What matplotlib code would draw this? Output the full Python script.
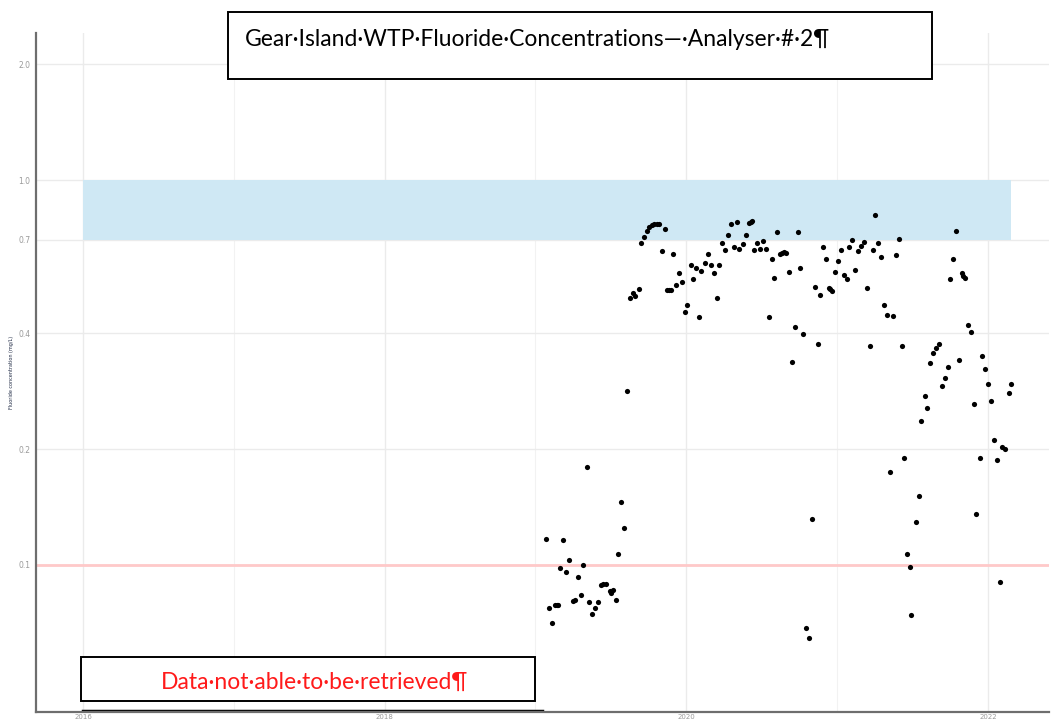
import matplotlib
matplotlib.use("Agg")
import matplotlib.pyplot as plt
from matplotlib.patches import Rectangle

# sample dates as decimal years, fluoride in mg/L
years = [
    2019.070, 2019.090, 2019.107, 2019.127, 2019.141, 2019.151, 2019.165, 2019.184,
    2019.204, 2019.224, 2019.251, 2019.262, 2019.282, 2019.300, 2019.317, 2019.340,
    2019.357, 2019.377, 2019.397, 2019.413, 2019.434, 2019.450, 2019.468, 2019.494,
    2019.499, 2019.512, 2019.532, 2019.547, 2019.567, 2019.589, 2019.605,
    2019.627, 2019.645, 2019.662, 2019.684, 2019.702, 2019.721, 2019.741, 2019.755,
    2019.770, 2019.788, 2019.804, 2019.821, 2019.857, 2019.837, 2019.914, 2019.949,
    2019.870, 2019.885, 2019.896, 2019.932, 2019.969, 2020.007, 2019.989, 2020.086,
    2020.046, 2020.029, 2020.064, 2020.099, 2020.126, 2020.142, 2020.164, 2020.184,
    2020.201, 2020.219, 2020.239, 2020.258, 2020.278, 2020.296, 2020.334, 2020.316,
    2020.351, 2020.374, 2020.394, 2020.414, 2020.427, 2020.437, 2020.449, 2020.469,
    2020.488, 2020.506, 2020.526, 2020.546, 2020.566, 2020.583, 2020.603, 2020.621,
    2020.634, 2020.648, 2020.661, 2020.681, 2020.699, 2020.719, 2020.738, 2020.756,
    2020.776, 2020.793, 2020.813, 2020.833, 2020.851, 2020.871, 2020.888, 2020.908,
    2020.928, 2020.946, 2020.955, 2020.966, 2020.988, 2021.004, 2021.024, 2021.043,
    2021.063, 2021.081, 2021.101, 2021.120, 2021.140, 2021.158, 2021.176, 2021.196,
    2021.218, 2021.236, 2021.253, 2021.273, 2021.293, 2021.311, 2021.330, 2021.350,
    2021.368, 2021.388, 2021.408, 2021.428, 2021.445, 2021.465, 2021.483, 2021.490,
    2021.523, 2021.541, 2021.558, 2021.580, 2021.598, 2021.616, 2021.638, 2021.655,
    2021.673, 2021.695, 2021.715, 2021.735, 2021.748, 2021.770, 2021.790, 2021.808,
    2021.826, 2021.836, 2021.850, 2021.868, 2021.885, 2021.905, 2021.923, 2021.945,
    2021.962, 2021.982, 2022.000, 2022.022, 2022.040, 2022.060, 2022.080, 2022.095,
    2022.115, 2022.137, 2022.155,
]
fluoride = [
    0.117, 0.0772, 0.0706, 0.0786, 0.0787, 0.0789, 0.098, 0.1159,
    0.0957, 0.103, 0.0808, 0.0811, 0.0929, 0.0836, 0.0998, 0.1794,
    0.080, 0.0747, 0.0772, 0.080, 0.0887, 0.0894, 0.0894, 0.0858,
    0.0848, 0.0861, 0.0811, 0.1068, 0.146, 0.1246, 0.2836,
    0.493, 0.510, 0.500, 0.521, 0.685, 0.710, 0.739, 0.754,
    0.764, 0.769, 0.769, 0.767, 0.745, 0.654, 0.642, 0.574,
    0.518, 0.519, 0.518, 0.534, 0.542, 0.474, 0.453, 0.440,
    0.554, 0.600, 0.590, 0.581, 0.610, 0.643, 0.600, 0.574,
    0.493, 0.603, 0.687, 0.658, 0.721, 0.769, 0.778, 0.671,
    0.662, 0.682, 0.719, 0.772, 0.778, 0.782, 0.658, 0.687,
    0.661, 0.696, 0.663, 0.440, 0.622, 0.557, 0.733, 0.641,
    0.647, 0.650, 0.647, 0.576, 0.337, 0.414, 0.731, 0.591,
    0.399, 0.0685, 0.0645, 0.132, 0.527, 0.376, 0.504, 0.669,
    0.624, 0.523, 0.520, 0.514, 0.578, 0.617, 0.659, 0.566,
    0.552, 0.671, 0.699, 0.585, 0.655, 0.674, 0.691, 0.525,
    0.371, 0.658, 0.810, 0.686, 0.630, 0.473, 0.446, 0.174,
    0.443, 0.637, 0.703, 0.371, 0.190, 0.107, 0.0988, 0.0742,
    0.129, 0.151, 0.237, 0.275, 0.256, 0.334, 0.356, 0.366,
    0.376, 0.291, 0.306, 0.326, 0.552, 0.622, 0.736, 0.341,
    0.572, 0.564, 0.557, 0.421, 0.404, 0.262, 0.136, 0.190,
    0.350, 0.322, 0.295, 0.267, 0.211, 0.187, 0.0902, 0.202,
    0.200, 0.280, 0.296,
]

target_low, target_high = 0.7, 1.0
target_span = [2016.0, 2022.15]
min_level = 0.1
missing_span = [2016.0, 2019.04]
missing_level = 0.0418

y_ticks = [0.1, 0.2, 0.4, 0.7, 1.0, 2.0]
y_labels = ["0.1", "0.2", "0.4", "0.7", "1.0", "2.0"]
x_ticks = [2016, 2018, 2020, 2022]
x_minor = [2017, 2019, 2021]

fig = plt.figure(figsize=(10.51, 7.24), dpi=100)
ax = fig.add_axes([36 / 1051, 12 / 724, 1013 / 1051, 679 / 724])

ax.set_yscale("log")
ax.set_xlim(2015.688, 2022.405)
ax.set_ylim(0.0415, 2.41)

ax.set_xticks(x_ticks)
ax.set_xticklabels([str(t) for t in x_ticks])
ax.set_xticks(x_minor, minor=True)
ax.set_yticks(y_ticks)
ax.set_yticklabels(y_labels)
ax.yaxis.set_minor_locator(matplotlib.ticker.NullLocator())
ax.tick_params(axis="y", which="both", length=0, labelsize=5.5, labelcolor="#9a9a9a", pad=4)
ax.tick_params(axis="x", which="both", length=0, labelsize=5, labelcolor="#9a9a9a", pad=1.5)

ax.grid(True, which="major", color="#ebebeb", linewidth=1.0)
ax.grid(True, which="minor", axis="x", color="#f2f2f2", linewidth=0.8)
ax.set_axisbelow(True)

for side in ["top", "right"]:
    ax.spines[side].set_visible(False)
for side in ["left", "bottom"]:
    ax.spines[side].set_color("#6e6e6e")
    ax.spines[side].set_linewidth(1.6)

ax.fill_between(target_span, target_low, target_high, color="#cfe8f4", linewidth=0, zorder=1)
ax.axhline(min_level, color="#ffc9c9", linewidth=2, zorder=1)
ax.plot(missing_span, [missing_level, missing_level], color="black", linewidth=2.5, zorder=2)
ax.scatter(years, fluoride, s=14, color="black", zorder=3, linewidths=0)

fig.text(12 / 1051, 1 - 372 / 724, "Fluoride concentration (mg/L)", rotation=90,
         fontsize=3.5, color="#1f2a44", ha="center", va="center")

# annotation boxes pasted over the chart
fig.add_artist(Rectangle((228 / 1051, 1 - 79 / 724), 704 / 1051, 67 / 724,
                         transform=fig.transFigure, facecolor="white",
                         edgecolor="black", linewidth=1.4))
fig.text(245 / 1051, 1 - 40 / 724,
         "Gear\u00b7Island\u00b7WTP\u00b7Fluoride\u00b7Concentrations\u2014\u00b7Analyser\u00b7#\u00b72\u00b6",
         family=["Lato", "DejaVu Sans"], fontsize=16.5, color="black", ha="left", va="center")

fig.add_artist(Rectangle((81 / 1051, 1 - 701 / 724), 454 / 1051, 44 / 724,
                         transform=fig.transFigure, facecolor="white",
                         edgecolor="black", linewidth=1.4))
fig.text(315 / 1051, 1 - 682 / 724,
         "Data\u00b7not\u00b7able\u00b7to\u00b7be\u00b7retrieved\u00b6",
         family=["Lato", "DejaVu Sans"], fontsize=16.5, color="#ff1a1a", ha="center", va="center")

fig.savefig("out.png", dpi=100)
